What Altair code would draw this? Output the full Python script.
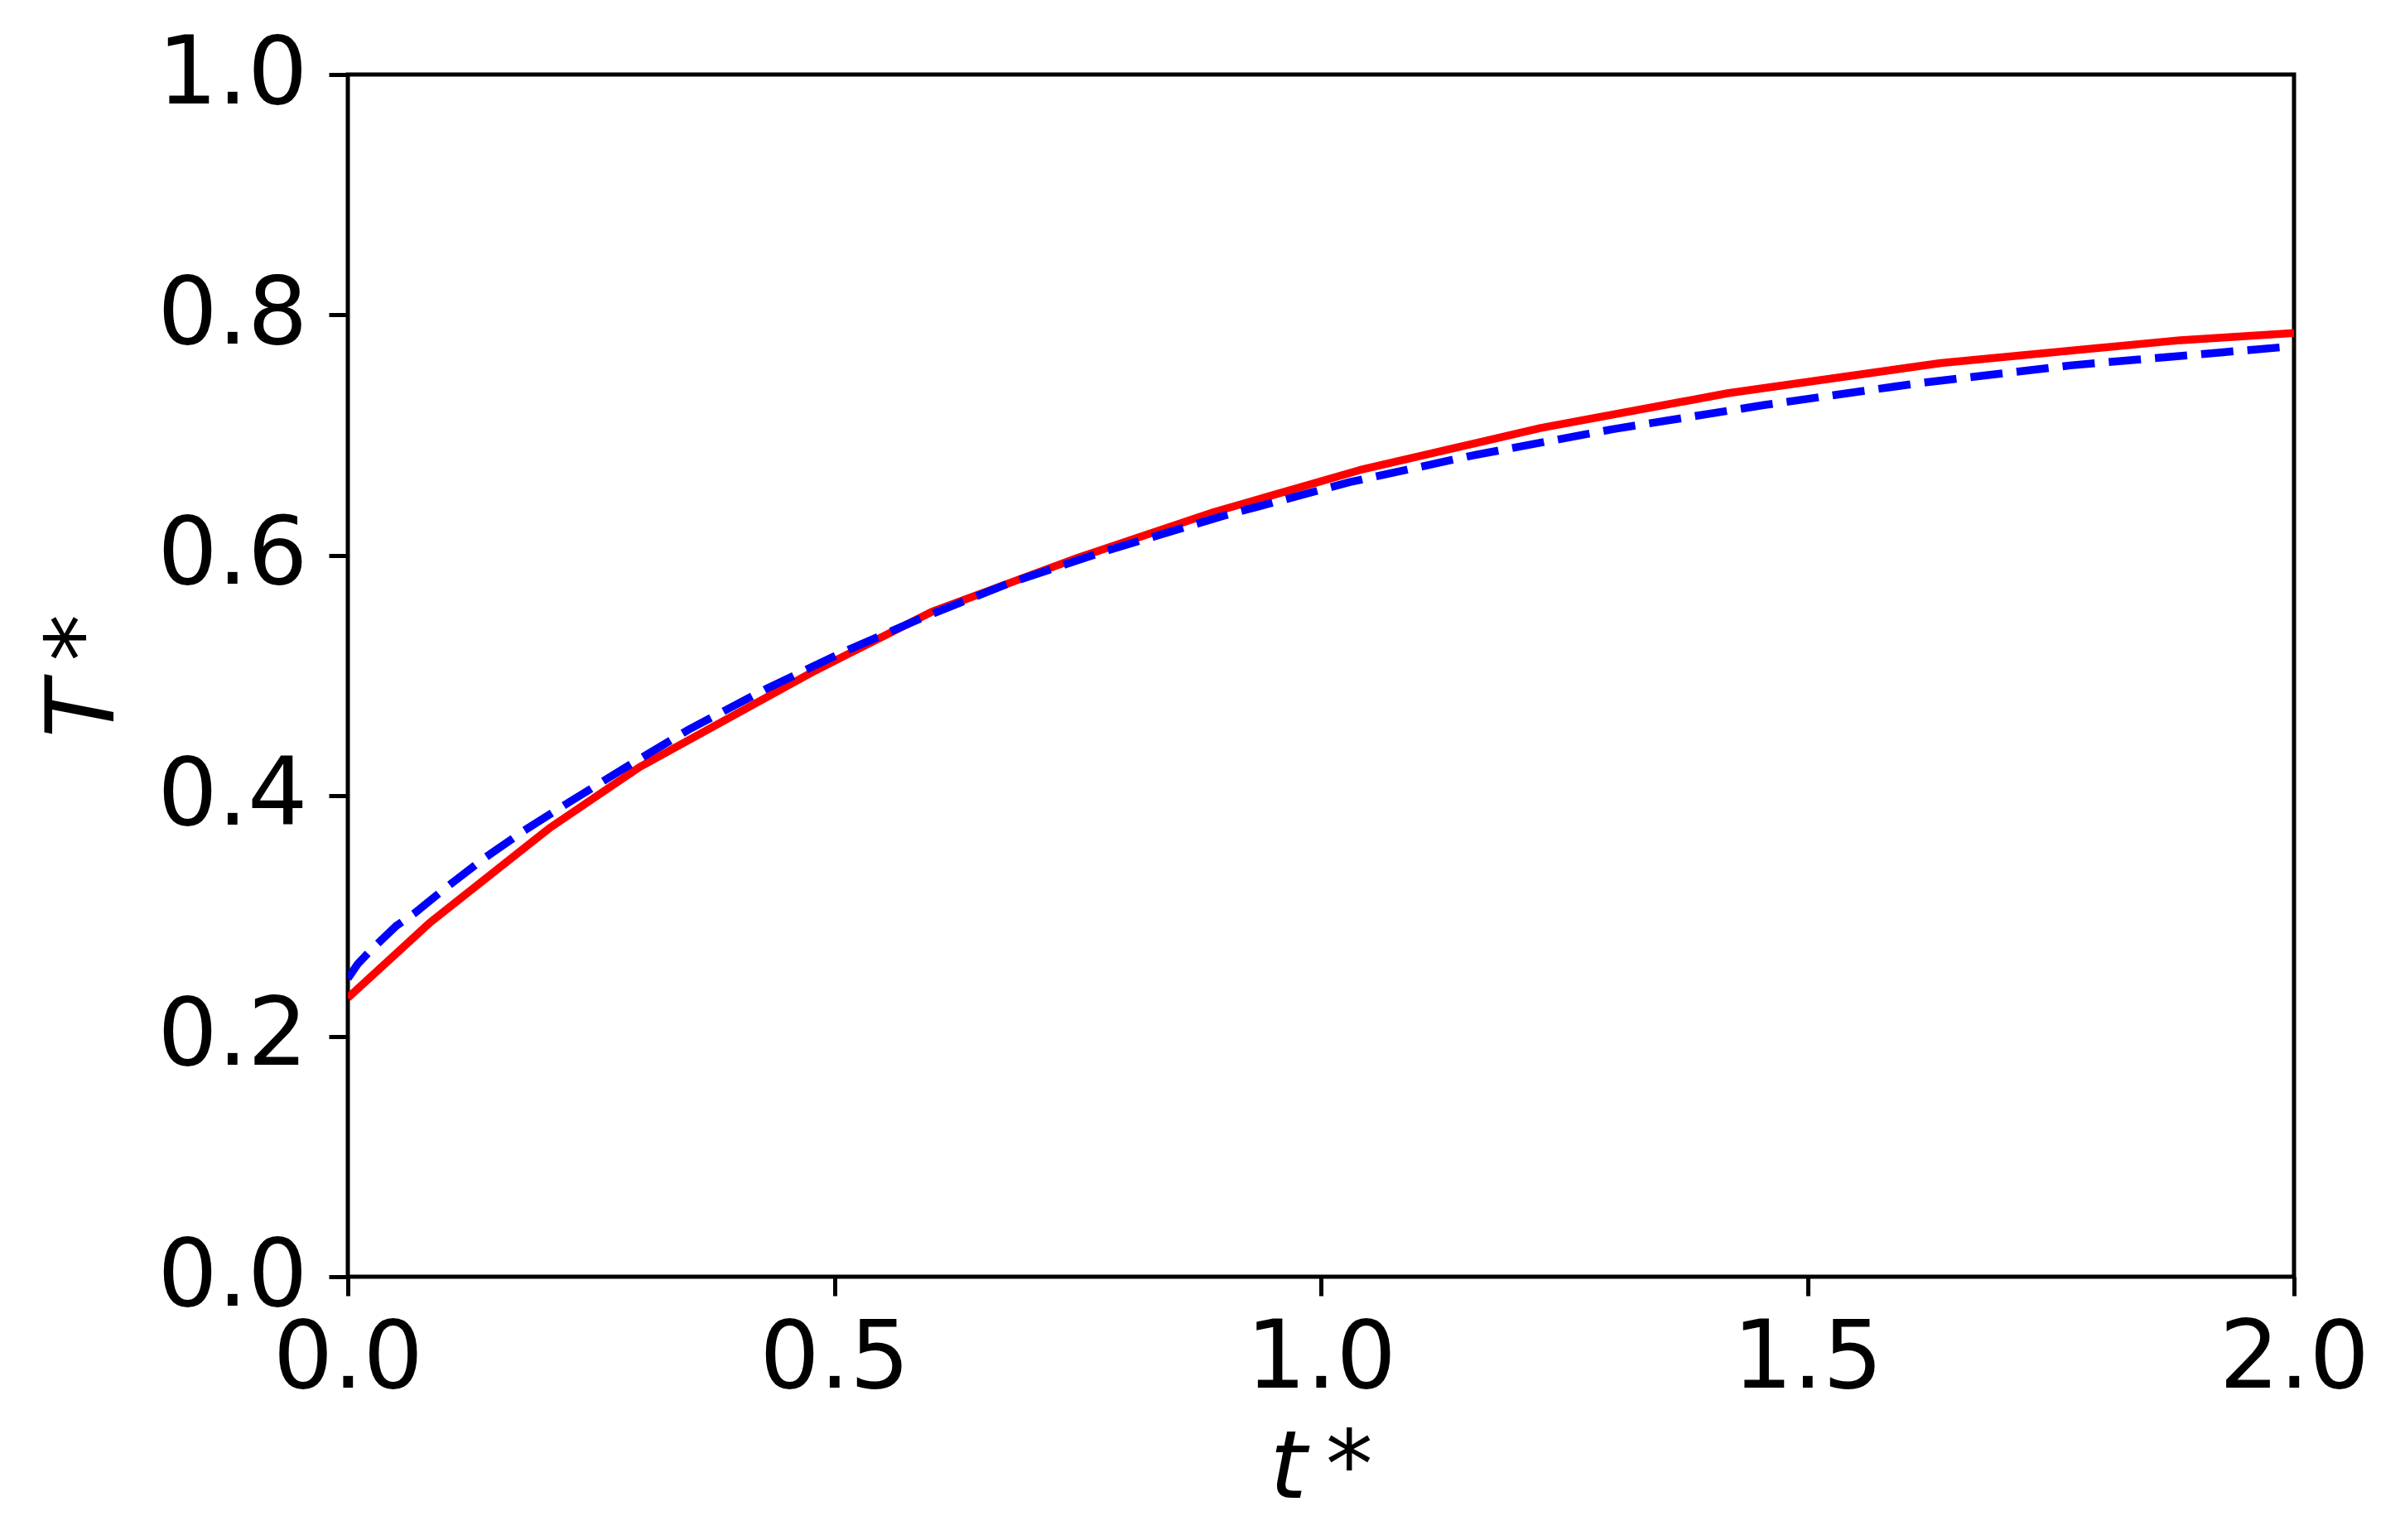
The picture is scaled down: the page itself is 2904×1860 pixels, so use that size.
import altair as alt
import pandas as pd

# Numerical solution (red, solid)
red_t = [0.0, 0.085, 0.207, 0.30, 0.48, 0.60, 0.75, 0.89, 1.04, 1.226, 1.419, 1.637, 1.883, 2.0]
red_T = [0.232, 0.295, 0.373, 0.424, 0.504, 0.553, 0.598, 0.636, 0.671, 0.706, 0.735, 0.760, 0.779, 0.785]

# Reference solution (blue, dashed)
blue_t = [0.0, 0.01, 0.024, 0.05, 0.068, 0.10, 0.14, 0.181, 0.23, 0.28, 0.35, 0.43, 0.51, 0.59,
          0.68, 0.78, 0.90, 1.03, 1.155, 1.30, 1.455, 1.612, 1.77, 1.927, 2.0]
blue_T = [0.248, 0.260, 0.272, 0.292, 0.302, 0.323, 0.348, 0.371, 0.396, 0.421, 0.455, 0.489, 0.520, 0.548,
          0.577, 0.604, 0.633, 0.661, 0.683, 0.705, 0.725, 0.743, 0.758, 0.769, 0.774]

x_ticks = [0.0, 0.5, 1.0, 1.5, 2.0]
y_ticks = [0.0, 0.2, 0.4, 0.6, 0.8, 1.0]

red_df = pd.DataFrame({"t": red_t, "T": red_T})
blue_df = pd.DataFrame({"t": blue_t, "T": blue_T})

FONT = "DejaVu Sans"
FS = 114

x_enc = alt.X(
    "t:Q",
    scale=alt.Scale(domain=[0, 2], nice=False, zero=False),
    axis=alt.Axis(title="t\u2009*", values=x_ticks, format=".1f",
                  titleFontStyle="italic", titlePadding=20, labelPadding=20),
)
y_enc = alt.Y(
    "T:Q",
    scale=alt.Scale(domain=[0, 1], nice=False, zero=False),
    axis=alt.Axis(title="T\u2009*", values=y_ticks, format=".1f",
                  titleFontStyle="italic", titlePadding=60, labelPadding=26),
)

red = alt.Chart(red_df).mark_line(
    color="#ff0000", strokeWidth=9.5, strokeJoin="round", clip=True
).encode(x=x_enc, y=y_enc)

blue = alt.Chart(blue_df).mark_line(
    color="#0000ff", strokeWidth=9.5, strokeDash=[39, 17], clip=True
).encode(x="t:Q", y="T:Q")

chart = (
    alt.layer(red, blue)
    .properties(
        width=2350,
        height=1452,
        padding={"left": 412, "top": 82, "right": 126, "bottom": 300},
        autosize=alt.AutoSizeParams(type="none"),
        background="white",
    )
    .configure_view(stroke="black", strokeWidth=5)
    .configure_axis(
        grid=False,
        domain=False,
        ticks=True,
        tickSize=23,
        tickWidth=5,
        tickColor="black",
        labelFont=FONT,
        labelFontSize=FS,
        labelColor="black",
        labelLimit=1000,
        labelOverlap=False,
        labelFlush=False,
        labelBound=False,
        titleFont=FONT,
        titleFontSize=FS,
        titleFontWeight="normal",
        titleColor="black",
        titleLimit=1000,
    )
)

chart.save("out.html", embed_options={"renderer": "svg", "actions": False})
